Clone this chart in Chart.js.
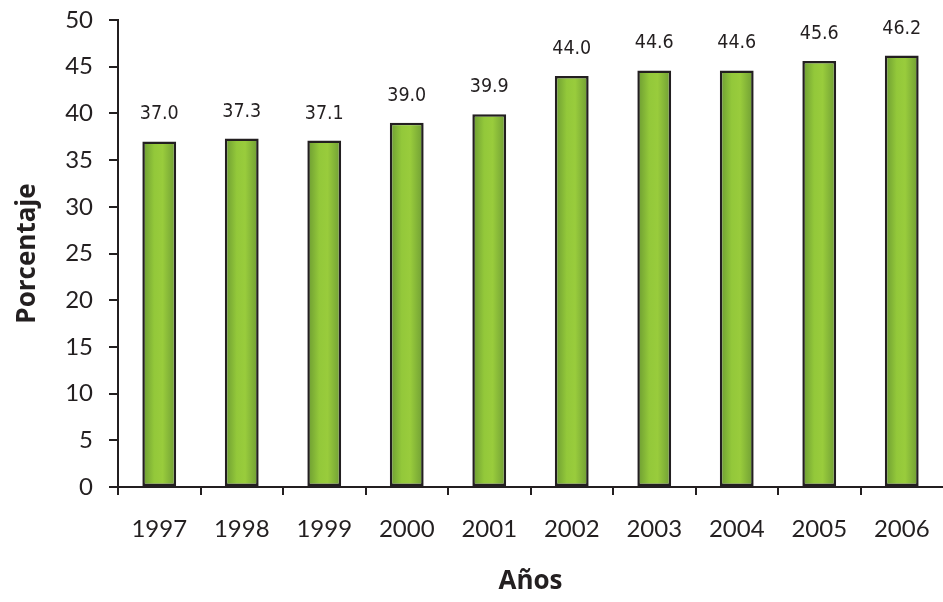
<!DOCTYPE html>
<html>
<head>
<meta charset="utf-8">
<script src="https://cdn.jsdelivr.net/npm/chart.js@4"></script>
<style>
  html, body { margin: 0; padding: 0; background: #fff; }
  #wrap { width: 943px; height: 602px; }
</style>
</head>
<body>
<div id="wrap"><canvas id="c" width="943" height="602"></canvas></div>
<script>
// Years and percentage shares
const years = ['1997', '1998', '1999', '2000', '2001', '2002', '2003', '2004', '2005', '2006'];
const percentages = [37.0, 37.3, 37.1, 39.0, 39.9, 44.0, 44.6, 44.6, 45.6, 46.2];
const yTicks = [0, 5, 10, 15, 20, 25, 30, 35, 40, 45, 50];

const INK = '#231f20';
const BAR_PCT = 0.41;
const TICK_FONT = 'Lato, "Open Sans", sans-serif';
const TITLE_FONT = '"Open Sans", Lato, sans-serif';

// Horizontal green gradient across each bar: darker edges, bright centre
function barFill(ctx) {
  const chart = ctx.chart;
  const xs = chart.scales && chart.scales.x;
  if (!chart.chartArea || !xs) return '#8dc63f';
  const cx = xs.getPixelForValue(ctx.dataIndex);
  const w = (xs.width / years.length) * BAR_PCT;
  const g = chart.ctx.createLinearGradient(cx - w / 2, 0, cx + w / 2, 0);
  g.addColorStop(0, '#6b9a32');
  g.addColorStop(0.35, '#93c83a');
  g.addColorStop(0.6, '#99cc3c');
  g.addColorStop(1, '#6e9c34');
  return g;
}

// Value labels above each bar
const valueLabels = {
  id: 'valueLabels',
  afterDatasetsDraw(chart) {
    const c = chart.ctx;
    const meta = chart.getDatasetMeta(0);
    c.save();
    c.font = '19.5px "DejaVu Sans Condensed", "DejaVu Sans"';
    c.fillStyle = INK;
    c.textAlign = 'center';
    c.textBaseline = 'middle';
    meta.data.forEach((bar, i) => {
      c.fillText(percentages[i].toFixed(1), bar.x, bar.y - 27);
    });
    c.restore();
  }
};

new Chart(document.getElementById('c'), {
  type: 'bar',
  data: {
    labels: years,
    datasets: [{
      data: percentages,
      backgroundColor: barFill,
      borderColor: INK,
      borderWidth: 2.5,
      borderSkipped: false,
      barPercentage: BAR_PCT,
      categoryPercentage: 1
    }]
  },
  options: {
    responsive: false,
    animation: false,
    layout: { autoPadding: false, padding: { top: 20, right: 0, left: 0, bottom: 0 } },
    plugins: { legend: { display: false }, tooltip: { enabled: false } },
    scales: {
      x: {
        grid: {
          drawOnChartArea: false,
          drawTicks: true,
          tickLength: 8,
          // the closing boundary mark (no tick of its own) sits past the right edge
          color: (ctx) => (ctx.tick ? INK : 'rgba(0,0,0,0)'),
          lineWidth: 2,
          offset: true
        },
        border: { display: true, color: INK, width: 2 },
        ticks: {
          color: INK,
          font: { family: TICK_FONT, size: 24 },
          padding: 20,
          maxRotation: 0
        },
        title: {
          display: true,
          text: 'Años',
          color: INK,
          font: { family: TITLE_FONT, size: 26, weight: 'bold' },
          padding: { top: 0, bottom: 5 }
        },
        afterFit(scale) {
          scale.height = 115;
          scale.paddingLeft = 0;
          scale.paddingRight = 0;
        }
      },
      y: {
        min: 0,
        max: 50,
        afterBuildTicks(scale) { scale.ticks = yTicks.map(v => ({ value: v })); },
        grid: {
          drawOnChartArea: false,
          drawTicks: true,
          tickLength: 9,
          color: INK,
          lineWidth: 2
        },
        border: { display: true, color: INK, width: 2 },
        ticks: {
          color: INK,
          font: { family: TICK_FONT, size: 24 },
          padding: 16
        },
        title: {
          display: true,
          text: 'Porcentaje',
          color: INK,
          font: { family: TITLE_FONT, size: 26, weight: 'bold' },
          padding: { top: 12, bottom: 0 }
        },
        afterFit(scale) {
          scale.width = 118;
          scale.paddingTop = 0;
          scale.paddingBottom = 0;
        }
      }
    }
  },
  plugins: [valueLabels]
});
</script>
</body>
</html>
